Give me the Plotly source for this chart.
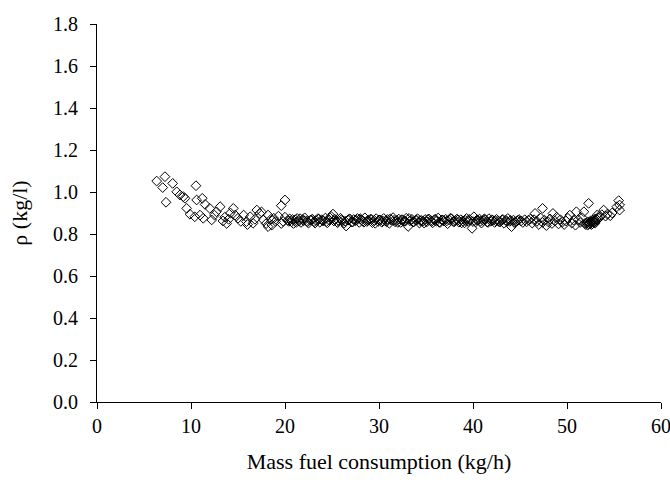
import plotly.graph_objects as go

# Segment A: low flows (6-10.6 kg/h)
mass_a = [6.35, 6.99, 7.23, 7.34, 8.05, 8.48, 8.83, 9.18, 9.36, 9.54, 9.89, 10.53, 10.6]
rho_a = [1.052, 1.021, 1.073, 0.951, 1.041, 1.001, 0.986, 0.978, 0.970, 0.922, 0.894, 1.030, 0.962]

# Segment B: 10-20 kg/h
mass_b = [10.4, 10.96, 11.2, 11.3, 11.5, 12.0, 12.2, 12.5, 12.7, 13.1,
          13.4, 13.6, 13.8, 14.0, 14.2, 14.5, 14.7, 15.0, 15.3, 15.6,
          15.9, 16.0, 16.3, 16.6, 16.8, 17.0, 17.3, 17.5, 17.7, 18.0,
          18.2, 18.2, 18.5, 18.6, 18.8, 19.0, 19.3, 19.6, 19.6, 19.8,
          20.0, 20.0]
rho_b = [0.882, 0.890, 0.970, 0.875, 0.941, 0.922, 0.867, 0.890, 0.906, 0.930,
         0.862, 0.880, 0.850, 0.870, 0.900, 0.922, 0.890, 0.875, 0.860, 0.890,
         0.859, 0.845, 0.882, 0.851, 0.870, 0.914, 0.898, 0.905, 0.867, 0.850,
         0.890, 0.835, 0.870, 0.843, 0.875, 0.860, 0.885, 0.935, 0.850, 0.860,
         0.962, 0.880]

# Segment C: dense band 20-45 kg/h (first row)
mass_c1 = [20.3, 20.5, 20.7, 20.9, 21.1, 21.3, 21.5, 21.7, 21.9, 22.1, 22.3, 22.5,
           22.7, 22.9, 23.1, 23.3, 23.5, 23.7, 23.9, 24.1, 24.3, 24.5, 24.7, 24.9,
           25.1, 25.3, 25.5, 25.7, 25.9, 26.1, 26.3, 26.5, 26.7, 26.9, 27.1, 27.3,
           27.5, 27.7, 27.9, 28.1, 28.3, 28.5, 28.7, 28.9, 29.1, 29.3, 29.5, 29.7, 29.9,
           30.1, 30.3, 30.5, 30.7, 30.9, 31.1, 31.3, 31.5, 31.7, 31.9, 32.1, 32.3,
           32.5, 32.7, 32.9, 33.1, 33.3, 33.5, 33.7, 33.9, 34.1, 34.3, 34.5, 34.7, 34.9,
           35.1, 35.3, 35.5, 35.7, 35.9, 36.1, 36.3, 36.5, 36.7, 36.9, 37.1, 37.3,
           37.5, 37.7, 37.9, 38.1, 38.3, 38.5, 38.7, 38.9, 39.1, 39.3, 39.5, 39.7, 39.9,
           40.1, 40.3, 40.5, 40.7, 40.9, 41.1, 41.3, 41.5, 41.7, 41.9, 42.1, 42.3,
           42.5, 42.7, 42.9, 43.1, 43.3, 43.5, 43.7, 43.9, 44.1, 44.3, 44.5, 44.7, 44.9]
rho_c1 = [0.865, 0.872, 0.858, 0.850, 0.868, 0.874, 0.861, 0.855, 0.869, 0.877, 0.862, 0.852,
          0.866, 0.871, 0.859, 0.864, 0.873, 0.856, 0.868, 0.862, 0.876, 0.853, 0.867, 0.884,
          0.895, 0.870, 0.858, 0.864, 0.875, 0.861, 0.852, 0.838, 0.866, 0.872, 0.857, 0.869,
          0.863, 0.874, 0.855, 0.868, 0.861, 0.877, 0.859, 0.866, 0.871, 0.854, 0.865, 0.873, 0.860,
          0.867, 0.856, 0.874, 0.862, 0.869, 0.851, 0.866, 0.878, 0.858, 0.864, 0.871, 0.855,
          0.868, 0.860, 0.875, 0.836, 0.863, 0.870, 0.857, 0.866, 0.873, 0.852, 0.865, 0.861, 0.869,
          0.858, 0.872, 0.864, 0.853, 0.868, 0.861, 0.876, 0.855, 0.867, 0.862, 0.870, 0.849,
          0.866, 0.873, 0.859, 0.864, 0.871, 0.856, 0.868, 0.862, 0.853, 0.874, 0.860, 0.866, 0.827,
          0.882, 0.858, 0.866, 0.871, 0.852, 0.864, 0.869, 0.857, 0.873, 0.861, 0.866, 0.855,
          0.870, 0.862, 0.858, 0.868, 0.851, 0.865, 0.874, 0.860, 0.835, 0.866, 0.857, 0.862, 0.869]

# Segment C: dense band 20-45 kg/h (second row)
mass_c2 = [20.4, 20.8, 21.2, 21.6, 22.0, 22.4, 22.8, 23.2, 23.6, 24.0,
           24.4, 24.8, 25.2, 25.6, 26.0, 26.4, 26.8, 27.2, 27.6, 28.0,
           28.4, 28.8, 29.2, 29.6, 30.0, 30.4, 30.8, 31.2, 31.6, 32.0,
           32.4, 32.8, 33.2, 33.6, 34.0, 34.4, 34.8, 35.2, 35.6, 36.0,
           36.4, 36.8, 37.2, 37.6, 38.0, 38.4, 38.8, 39.2, 39.6, 40.0,
           40.4, 40.8, 41.2, 41.6, 42.0, 42.4, 42.8, 43.2, 43.6, 44.0,
           44.4, 44.8]
rho_c2 = [0.860, 0.869, 0.855, 0.873, 0.863, 0.858, 0.867, 0.852, 0.871, 0.864,
          0.859, 0.876, 0.862, 0.854, 0.868, 0.861, 0.870, 0.857, 0.866, 0.873,
          0.856, 0.864, 0.869, 0.851, 0.867, 0.862, 0.858, 0.872, 0.865, 0.855,
          0.868, 0.861, 0.874, 0.857, 0.866, 0.863, 0.852, 0.869, 0.860, 0.871,
          0.856, 0.865, 0.862, 0.875, 0.858, 0.867, 0.853, 0.864, 0.870, 0.859,
          0.866, 0.861, 0.872, 0.855, 0.868, 0.863, 0.857, 0.869, 0.860, 0.865,
          0.854, 0.866]

# Segment D: 45-52 kg/h
mass_d = [45.1, 45.3, 45.5, 45.7, 45.9, 46.1, 46.3, 46.5, 46.6, 46.8,
          47.0, 47.2, 47.4, 47.4, 47.6, 47.8, 48.0, 48.2, 48.4, 48.5,
          48.7, 48.9, 49.1, 49.3, 49.5, 49.7, 49.9, 50.1, 50.3, 50.5,
          50.7, 50.9, 51.0, 51.2, 51.4, 51.6, 51.8, 51.9]
rho_d = [0.862, 0.855, 0.868, 0.858, 0.866, 0.871, 0.852, 0.868, 0.898, 0.860,
         0.845, 0.876, 0.922, 0.855, 0.866, 0.840, 0.858, 0.872, 0.850, 0.898,
         0.862, 0.880, 0.848, 0.868, 0.856, 0.845, 0.862, 0.875, 0.890, 0.852,
         0.866, 0.842, 0.906, 0.868, 0.855, 0.878, 0.906, 0.850]

# Segment E: dense cluster 52-53.3 kg/h
mass_e = [52.0, 52.1, 52.2, 52.3, 52.3, 52.4, 52.5, 52.5, 52.6, 52.7, 52.7,
          52.8, 52.9, 52.9, 53.0, 53.1, 53.2, 53.2, 53.3, 52.2, 52.6, 53.0]
rho_e = [0.845, 0.852, 0.858, 0.946, 0.848, 0.855, 0.850, 0.862, 0.857, 0.848, 0.866,
         0.860, 0.855, 0.870, 0.863, 0.872, 0.890, 0.866, 0.878, 0.842, 0.845, 0.852]

# Segment F: high flows 53.5-55.6 kg/h
mass_f = [53.5, 53.7, 53.9, 54.1, 54.3, 54.6, 54.8, 55.3, 55.5, 55.6, 55.6]
rho_f = [0.880, 0.892, 0.914, 0.885, 0.895, 0.887, 0.900, 0.930, 0.959, 0.938, 0.914]

x_ticks = [0, 10, 20, 30, 40, 50, 60]
y_ticks = [0.0, 0.2, 0.4, 0.6, 0.8, 1.0, 1.2, 1.4, 1.6, 1.8]

mass = mass_a + mass_b + mass_c1 + mass_c2 + mass_d + mass_e + mass_f
rho = rho_a + rho_b + rho_c1 + rho_c2 + rho_d + rho_e + rho_f
assert len(mass) == len(rho), (len(mass), len(rho))

FONT = "Liberation Serif"

fig = go.Figure()
fig.add_trace(go.Scatter(
    x=mass, y=rho, mode="markers",
    marker=dict(symbol="diamond-open", size=7.5, color="black",
                line=dict(color="black", width=1)),
    showlegend=False, cliponaxis=False,
))

axis_common = dict(
    showgrid=False, zeroline=False, showline=True, linecolor="black", linewidth=1,
    ticks="outside", ticklen=6, tickwidth=1, tickcolor="black",
    tickfont=dict(family=FONT, size=20, color="black"),
    mirror=False, ticklabeloverflow="allow", automargin=False,
)

fig.update_layout(
    width=670, height=482,
    margin=dict(l=97, r=9, t=24, b=80, autoexpand=False),
    paper_bgcolor="white", plot_bgcolor="white",
    font=dict(family=FONT, size=20, color="black"),
    xaxis=dict(range=[0, 60], tickvals=x_ticks, ticktext=[str(v) for v in x_ticks],
               title=dict(text="Mass fuel consumption (kg/h)",
                          font=dict(family=FONT, size=22, color="black"), standoff=17),
               ticklabelstandoff=0, **axis_common),
    yaxis=dict(range=[0, 1.8], tickvals=y_ticks, ticktext=[f"{v:.1f}" for v in y_ticks],
               title=dict(text="ρ (kg/l)",
                          font=dict(family=FONT, size=22, color="black"), standoff=19),
               ticklabelstandoff=8, **axis_common),
)

fig.write_html("out.html")
